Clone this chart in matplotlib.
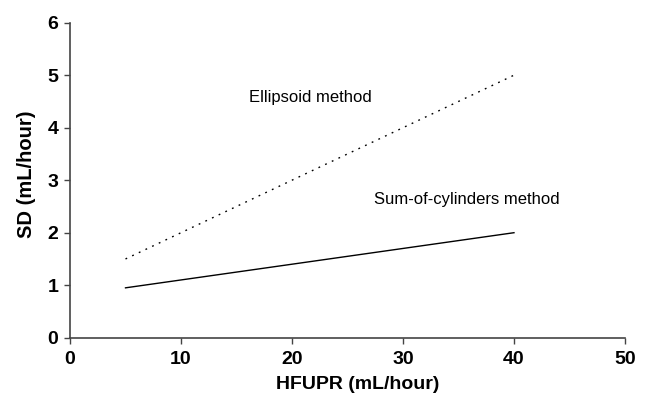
import matplotlib
matplotlib.use('agg')
import matplotlib.pyplot as plt

# data
hfupr = [5, 40]
sd_ellipsoid = [1.5, 5.0]
sd_cylinders = [0.95, 2.0]
x_ticks = [0, 10, 20, 30, 40, 50]
y_ticks = [0, 1, 2, 3, 4, 5, 6]

plt.rcParams['font.family'] = ['Liberation Sans', 'DejaVu Sans']

fig = plt.figure(figsize=(6.5, 3.96), dpi=100)
ax = fig.add_axes([0.1077, 0.1472, 0.8538, 0.7955])

ax.plot(hfupr, sd_ellipsoid, color='black', linewidth=1.0, dashes=(1.3, 4.0))
ax.plot(hfupr, sd_cylinders, color='black', linewidth=1.0)

ax.text(16.1, 4.58, 'Ellipsoid method', fontsize=12, va='center', ha='left')
ax.text(27.4, 2.64, 'Sum-of-cylinders method', fontsize=12, va='center', ha='left')

ax.set_xlim(0, 50)
ax.set_ylim(0, 6)
ax.set_xticks(x_ticks)
ax.set_yticks(y_ticks)

for side in ['top', 'right']:
    ax.spines[side].set_visible(False)
for side in ['left', 'bottom']:
    ax.spines[side].set_color('#444444')
    ax.spines[side].set_linewidth(1.2)

ax.tick_params(direction='out', length=4.5, width=1.0, color='#444444',
               labelsize=14)
ax.tick_params(axis='x', pad=5)
ax.tick_params(axis='y', pad=4)
for lab in ax.get_xticklabels() + ax.get_yticklabels():
    lab.set_fontweight('bold')

ax.set_xlabel('HFUPR (mL/hour)', fontsize=14, fontweight='bold')
ax.set_ylabel('SD (mL/hour)', fontsize=14.5, fontweight='bold')
ax.xaxis.set_label_coords(0.518, -0.122)
ax.yaxis.set_label_coords(-0.061, 0.52)

plt.savefig('out.png', dpi=100)
